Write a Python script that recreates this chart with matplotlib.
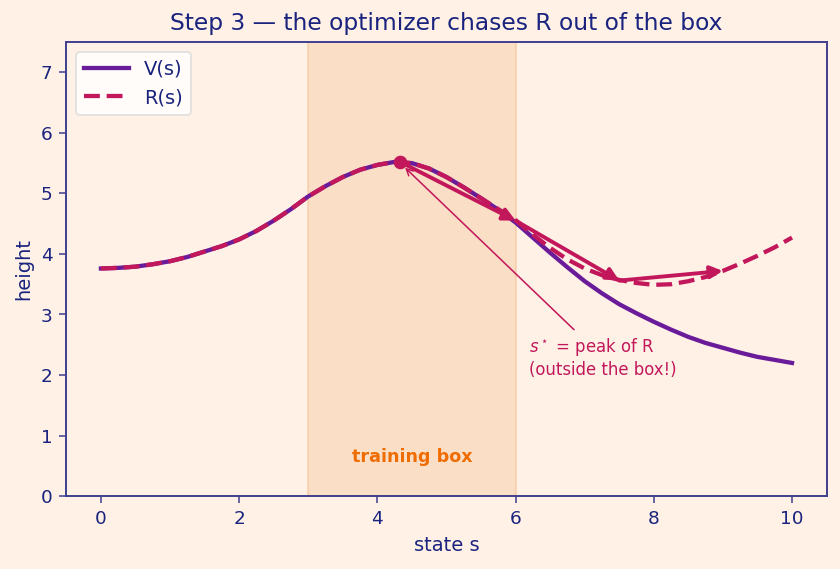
import matplotlib.pyplot as plt
import numpy as np

# curve samples (step 0.25)
s = [0, 0.25, 0.5, 0.75, 1, 1.25, 1.5, 1.75, 2, 2.25, 2.5, 2.75, 3, 3.25, 3.5, 3.75,
     4, 4.25, 4.5, 4.75, 5, 5.25, 5.5, 5.75, 6, 6.25, 6.5, 6.75, 7, 7.25, 7.5, 7.75,
     8, 8.25, 8.5, 8.75, 9, 9.25, 9.5, 9.75, 10]
V = [3.76, 3.77, 3.79, 3.83, 3.88, 3.95, 4.04, 4.13, 4.24, 4.38, 4.55, 4.74, 4.95,
     5.12, 5.27, 5.39, 5.47, 5.52, 5.50, 5.41, 5.27, 5.10, 4.92, 4.73, 4.52, 4.27,
     4.02, 3.78, 3.55, 3.35, 3.17, 3.02, 2.88, 2.75, 2.63, 2.53, 2.45, 2.37, 2.30,
     2.25, 2.20]
R = [3.76, 3.77, 3.79, 3.83, 3.88, 3.95, 4.04, 4.13, 4.24, 4.38, 4.55, 4.74, 4.95,
     5.12, 5.27, 5.39, 5.47, 5.52, 5.50, 5.41, 5.27, 5.10, 4.92, 4.74, 4.56, 4.32,
     4.10, 3.91, 3.76, 3.65, 3.57, 3.52, 3.49, 3.50, 3.55, 3.62, 3.72, 3.84, 3.97,
     4.11, 4.27]

# optimizer steps
path_s = [4.33, 6.0, 7.5, 9.0]
path_h = [5.52, 4.55, 3.56, 3.72]

box = (3, 6)

bg = '#fff1e6'
navy = '#1a237e'
purple = '#6a1b9a'
crimson = '#c2185b'

fig = plt.figure(figsize=(6, 4.065), dpi=140, facecolor=bg)
ax = fig.add_axes([0.079, 0.128, 0.905, 0.798], facecolor=bg)

ax.axvspan(box[0], box[1], facecolor='#f8c9a0', alpha=0.45, edgecolor='#f0b07a', lw=0.8)
ax.text(np.mean(box), 0.65, 'training box', color='#ef6c00', fontsize=9,
        fontweight='bold', ha='center', va='center')

ax.plot(s, V, color=purple, lw=2.2, label='V(s)')
ax.plot(s, R, color=crimson, lw=2.2, ls='--', label='R(s)')

for i in range(len(path_s) - 1):
    ax.annotate('', xy=(path_s[i + 1], path_h[i + 1]), xytext=(path_s[i], path_h[i]),
                arrowprops=dict(arrowstyle='-|>', color=crimson, lw=2.0,
                                mutation_scale=13, shrinkA=0, shrinkB=0))
ax.plot(path_s[0], path_h[0], 'o', color=crimson, ms=6)

ax.annotate('$s^\\star$ = peak of R\n(outside the box!)', xy=(path_s[0] + 0.03, path_h[0] - 0.05),
            xytext=(6.2, 2.0), color=crimson, fontsize=8.5,
            arrowprops=dict(arrowstyle='->', color=crimson, lw=0.8))

ax.set_xlim(-0.5, 10.5)
ax.set_ylim(0, 7.5)
ax.set_yticks(range(8))
ax.set_xlabel('state s', color=navy, fontsize=10)
ax.set_ylabel('height', color=navy, fontsize=10)
ax.set_title('Step 3 — the optimizer chases R out of the box', color=navy, fontsize=12)
ax.tick_params(colors=navy, labelsize=9.5, color='#3f3f8f')
for sp in ax.spines.values():
    sp.set_color('#3f3f8f')
    sp.set_linewidth(1.0)

leg = ax.legend(loc='upper left', fontsize=10, facecolor='white', edgecolor='#dddddd',
                handlelength=2.3)
for t in leg.get_texts():
    t.set_color(navy)

fig.savefig('out.png', dpi=140, facecolor=bg)
